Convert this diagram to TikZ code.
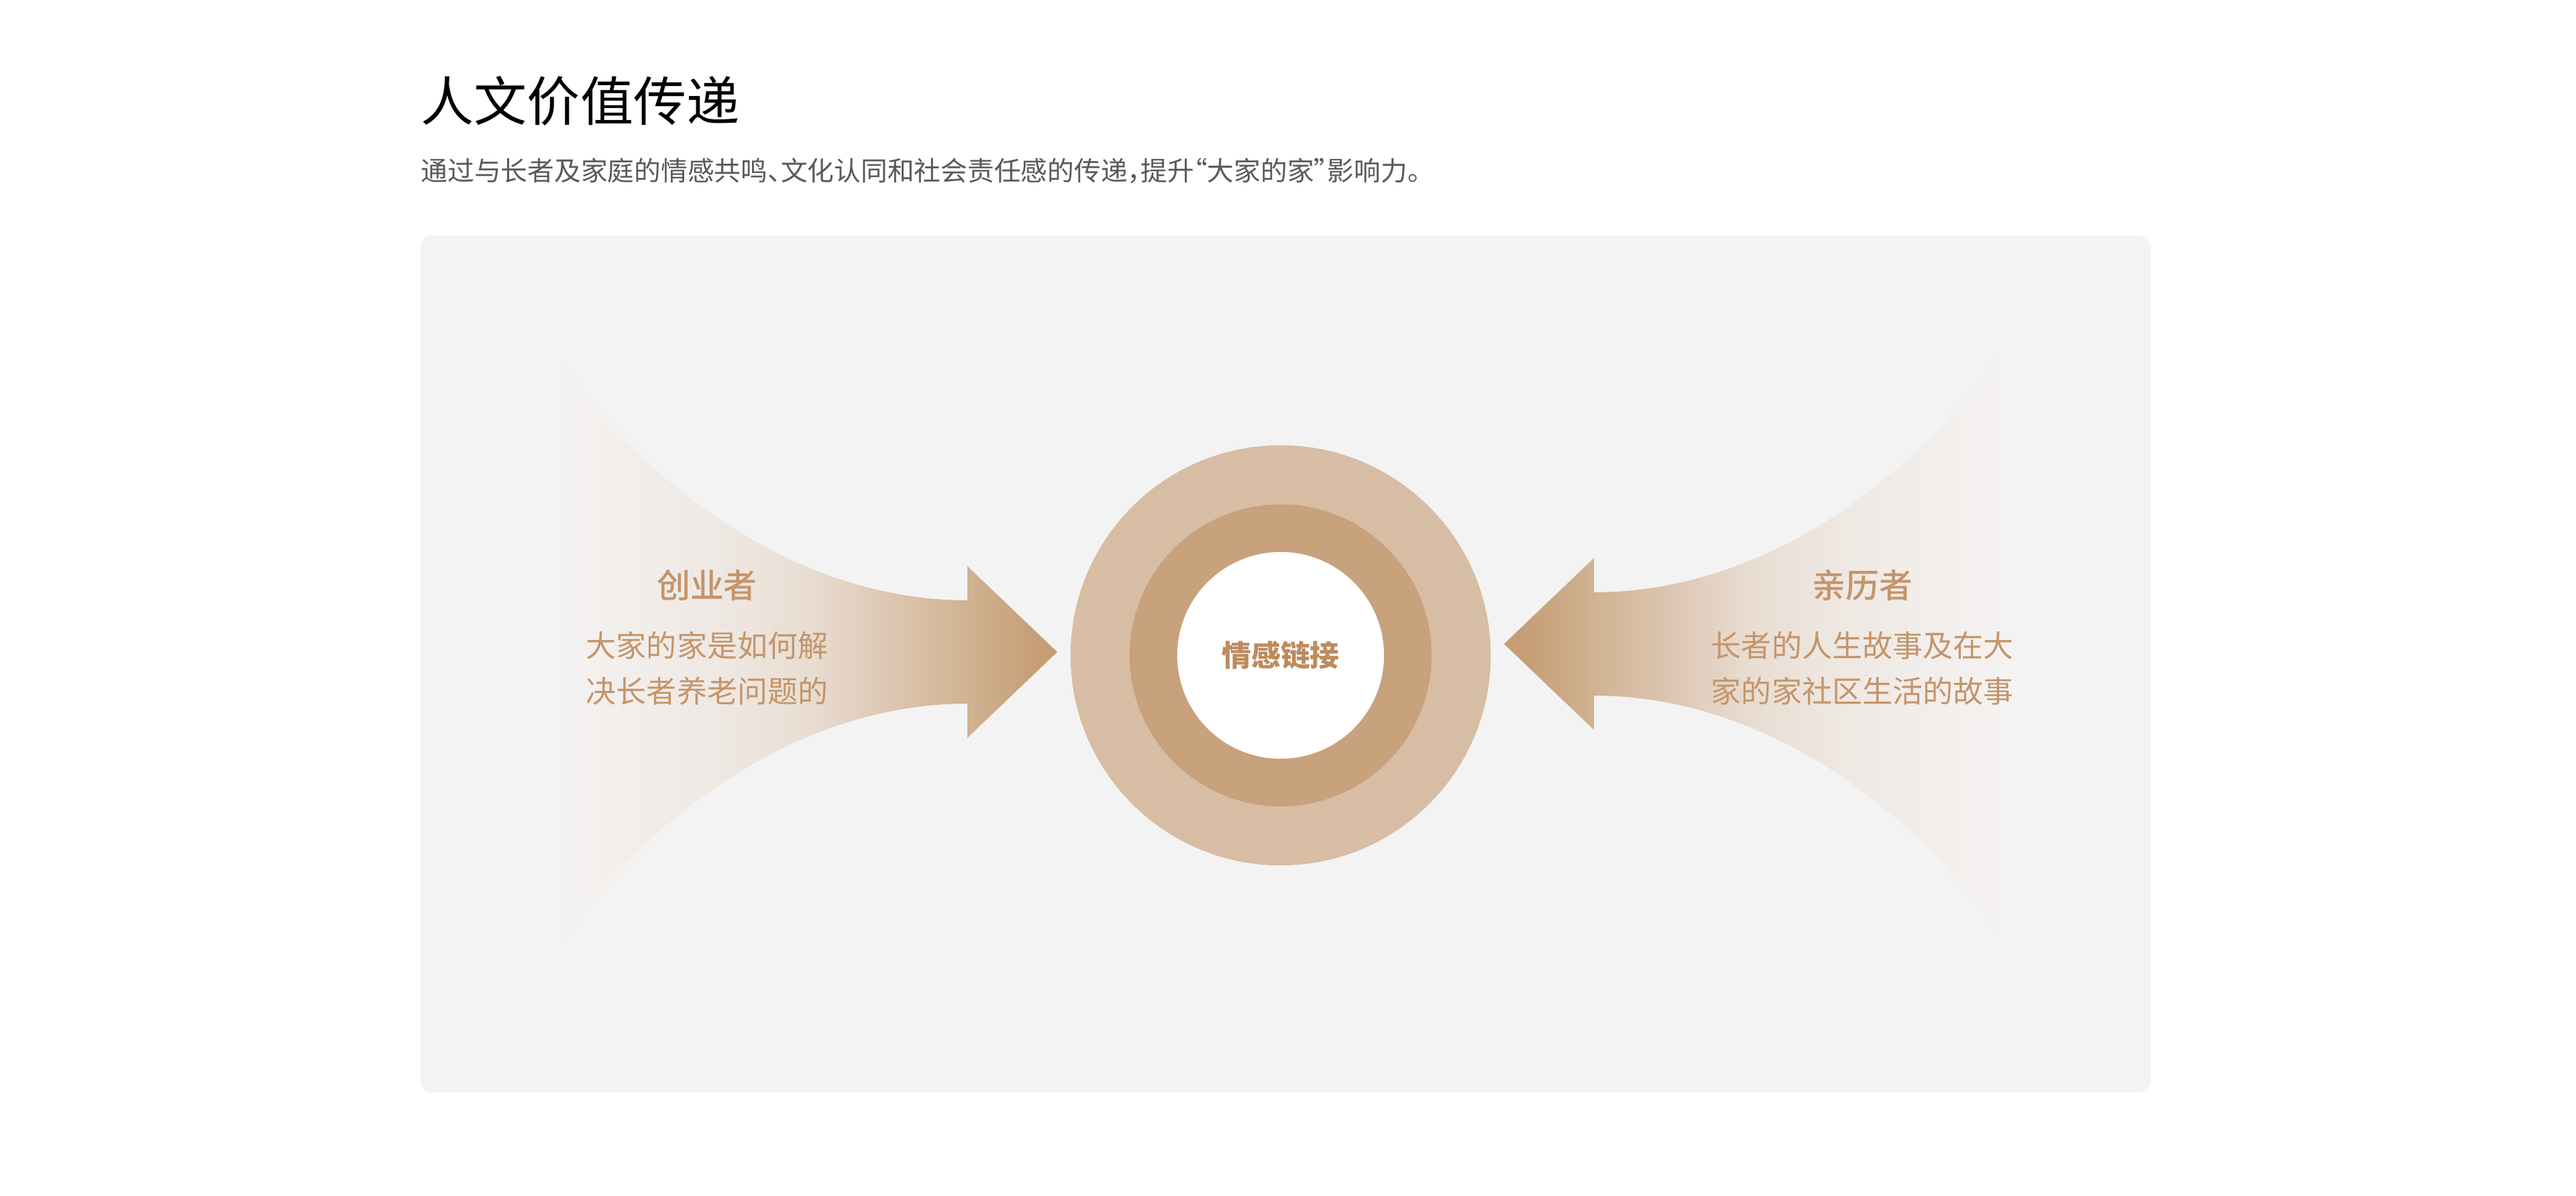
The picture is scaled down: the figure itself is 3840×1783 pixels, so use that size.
\documentclass[tikz,border=0pt]{standalone}
\usepackage{fontspec}
\setmainfont{Noto Sans CJK SC}
\newfontfamily\cjkmed{Noto Sans CJK SC Medium}
\usetikzlibrary{positioning}
\usetikzlibrary{calc}

\definecolor{panelgray}{HTML}{F3F3F3}
\definecolor{ringout}{HTML}{D7BDA3}
\definecolor{ringmid}{HTML}{C8A27D}
\definecolor{goldtxt}{HTML}{C4956A}
\definecolor{coretxt}{HTML}{BD8B5F}
\definecolor{subgray}{HTML}{595959}
\definecolor{fadeA}{HTML}{F4F2F1}
\definecolor{fadeB}{HTML}{EFE9E4}
\definecolor{fadeC}{HTML}{E9DDD2}
\definecolor{fadeD}{HTML}{DEC8B4}
\definecolor{fadeE}{HTML}{D2B595}
\definecolor{fadeF}{HTML}{C69F78}
\definecolor{fadeG}{HTML}{C49C74}

% tail -> tip, the path box sits on 25bp..75bp
\pgfdeclarehorizontalshading{fadeleft}{100bp}{color(0bp)=(fadeA); color(25bp)=(fadeA); color(40bp)=(fadeB); color(50bp)=(fadeC); color(57.5bp)=(fadeD); color(65bp)=(fadeE); color(72.5bp)=(fadeF); color(75bp)=(fadeG); color(100bp)=(fadeG)}
\pgfdeclarehorizontalshading{faderight}{100bp}{color(0bp)=(fadeG); color(25bp)=(fadeG); color(27.5bp)=(fadeF); color(35bp)=(fadeE); color(42.5bp)=(fadeD); color(50bp)=(fadeC); color(60bp)=(fadeB); color(75bp)=(fadeA); color(100bp)=(fadeA)}

\begin{document}
\begin{tikzpicture}[x=0.01cm, y=-0.01cm,
  headtxt/.style={text=goldtxt, inner sep=0pt, font=\fontsize{14.2}{17}\selectfont\cjkmed},
  bodytxt/.style={text=goldtxt, inner sep=0pt, align=center, font=\fontsize{12.8}{19.3}\selectfont},
  ring/.style={circle, inner sep=0pt}]
\useasboundingbox (0,0) rectangle (3840,1783);
\fill[white] (0,0) rectangle (3840,1783);

\node[anchor=west, inner sep=0pt, font=\fontsize{22.5}{27}\selectfont] (title) at (627,150) {人文价值传递};
\node[anchor=west, inner sep=0pt, text=subgray, font=\fontsize{11.3}{13}\selectfont\addfontfeature{RawFeature=+halt}] (subtitle) at (627,255)
  {通过与长者及家庭的情感共鸣、文化认同和社会责任感的传递，提升“大家的家”影响力。};

\fill[panelgray, rounded corners=0.18cm] (627,351) rectangle (3206,1629);

% two arrows
\shade[shading=fadeleft] (838,540) .. controls (968,730) and (1192,895) .. (1442,895) -- (1442,844) -- (1576,972)
  -- (1442,1100) -- (1442,1049) .. controls (1192,1049) and (968,1214) .. (838,1404) -- cycle;
\shade[shading=faderight] (2980,528) .. controls (2850,718) and (2626,883) .. (2376,883) -- (2376,832) -- (2242,960)
  -- (2376,1088) -- (2376,1037) .. controls (2626,1037) and (2850,1202) .. (2980,1392) -- cycle;

\node[ring, fill=ringout, minimum size=6.26cm] (outer) at (1909,977) {};
\node[ring, fill=ringmid, minimum size=4.5cm] (middle) at (outer) {};
\node[ring, fill=white, minimum size=3.08cm, text=coretxt, font=\fontsize{12.5}{15}\selectfont\bfseries] (core) at (outer) {情感链接};

\node[headtxt] (leftHead) at (1054,873) {创业者};
\node[bodytxt] (leftBody) at (1054,996) {大家的家是如何解\\决长者养老问题的};
\node[headtxt] (rightHead) at ($(leftHead)+(1722,0)$) {亲历者};
\node[bodytxt] (rightBody) at ($(leftBody)+(1722,0)$) {长者的人生故事及在大\\家的家社区生活的故事};
\end{tikzpicture}
\end{document}
